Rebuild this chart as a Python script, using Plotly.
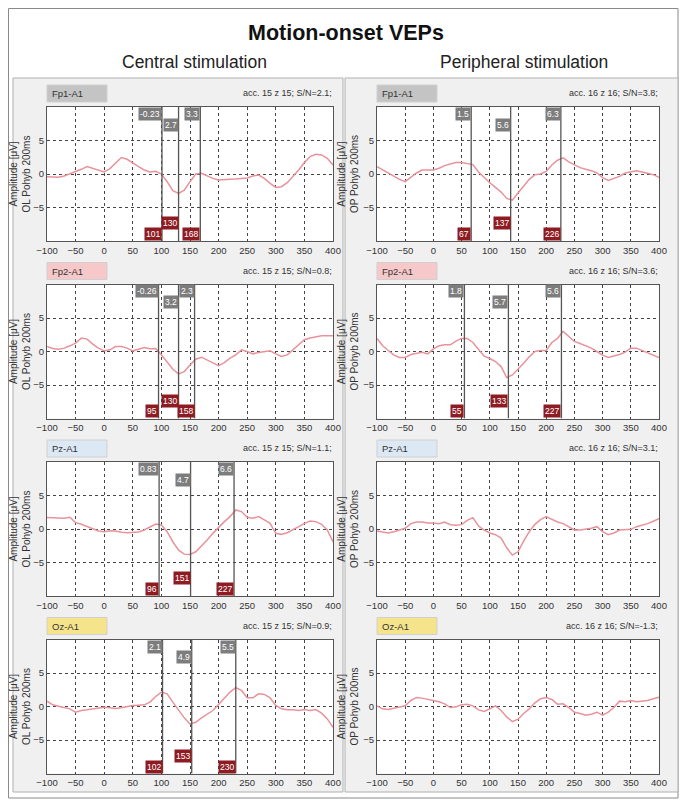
import plotly.graph_objects as go

# time axis (ms) and traces, 10 ms steps
t = list(range(-100, 401, 10))

fp1_central = [-0.4, -0.5, -0.5, -0.3, 0.0, 0.3, 0.7, 1.1, 0.85, 0.5,
               0.3, 0.8, 1.7, 2.45, 2.2, 1.6, 1.1, 0.6, 0.3, 0.4,
               0.0, -1.15, -2.5, -2.9, -2.4, -1.15, 0.0, 0.1, -0.3, -0.65,
               -0.9, -0.9, -0.8, -0.75, -0.7, -0.6, -0.3, -0.15, -0.65, -1.4,
               -2.0, -1.9, -1.3, -0.4, 0.6, 1.7, 2.6, 2.95, 2.85, 2.35,
               1.35]
fp2_central = [0.75, 0.45, 0.35, 0.5, 0.85, 1.25, 2.0, 1.85, 1.1, 0.5,
               0.1, 0.25, 0.75, 0.75, 0.5, 0.1, 0.35, 0.6, 0.4, 0.45,
               -0.5, -1.5, -2.65, -3.35, -3.0, -2.0, -1.15, -0.85, -1.25, -1.75,
               -2.1, -1.65, -1.0, -0.5, 0.25, 0.0, -0.35, -0.15, 0.0, 0.1,
               -0.35, -0.75, -0.5, 0.25, 1.0, 1.75, 2.0, 2.15, 2.35, 2.35,
               2.35]
pz_central = [1.7, 1.7, 1.6, 1.6, 1.75, 0.95, 0.7, 0.35, 0.0, -0.3,
              -0.4, -0.25, -0.3, -0.5, -0.55, -0.5, -0.45, -0.15, 0.35, 0.75,
              0.6, -0.4, -1.9, -3.15, -3.75, -3.8, -3.4, -2.55, -1.65, -0.65,
              0.25, 1.1, 1.85, 2.85, 2.6, 1.75, 1.6, 1.85, 1.35, 0.85,
              -0.65, -0.8, -0.55, -0.15, 0.35, 0.85, 1.2, 1.1, 0.7, -0.15,
              -1.9]
oz_central = [0.8, 0.25, 0.05, -0.1, -0.35, -0.85, -0.6, -0.5, -0.35, -0.25,
              -0.1, -0.2, -0.3, -0.2, 0.0, 0.15, 0.2, 0.25, 0.65, 1.5,
              2.15, 1.9, 0.65, -0.6, -1.7, -2.6, -2.35, -1.7, -1.2, -0.6,
              0.3, 1.15, 2.15, 2.8, 2.4, 1.3, 1.3, 1.9, 1.8, 1.3,
              0.15, -0.35, -0.5, -0.5, -0.6, -0.45, -0.6, -0.45, -1.0, -1.85,
              -3.1]
fp1_periph = [1.1, 0.6, 0.15, -0.3, -0.8, -1.15, -0.55, 0.15, 0.6, 0.6,
              0.6, 0.85, 1.25, 1.5, 1.7, 1.7, 1.55, 1.4, 0.3, -0.55,
              -1.3, -2.0, -2.7, -3.65, -3.9, -2.85, -1.75, -0.8, -0.1, 0.0,
              0.4, 1.35, 2.05, 2.4, 1.8, 1.35, 0.95, 0.7, 0.5, 0.15,
              -0.55, -0.95, -0.7, -0.35, 0.15, 0.3, 0.5, 0.3, 0.15, -0.1,
              -0.5]
fp2_periph = [1.95, 0.85, 0.15, -0.55, -0.9, -0.9, -0.45, -0.25, -0.1, -0.35,
              0.4, 0.85, 1.0, 1.0, 1.55, 1.95, 1.95, 1.35, 0.4, -0.7,
              -1.05, -1.5, -2.25, -3.9, -3.5, -2.7, -1.75, -0.8, 0.0, 0.15,
              0.15, 1.35, 1.95, 3.0, 2.3, 1.5, 1.2, 0.85, 0.5, 0.0,
              -0.55, -0.9, -0.7, -0.45, -0.1, 0.5, 0.5, 0.15, -0.1, -0.45,
              -0.9]
pz_periph = [-0.3, -0.5, -0.6, -0.4, -0.15, 0.1, 0.8, 1.05, 1.05, 0.9,
             0.9, 0.8, 1.05, 0.65, 0.55, 0.65, 1.3, 1.7, 0.45, -0.15,
             -0.6, -0.85, -1.35, -2.8, -3.9, -3.4, -1.8, -0.4, 0.7, 1.4,
             1.85, 1.4, 1.05, 0.8, 0.35, -0.15, -0.15, -0.05, 0.1, 0.35,
             -0.4, -0.85, -0.6, -0.15, -0.15, -0.05, 0.35, 0.55, 0.8, 1.15,
             1.55]
oz_periph = [0.1, -0.35, -0.45, -0.3, -0.15, 0.1, 0.9, 1.35, 1.25, 1.1,
             0.9, 0.7, 0.4, -0.15, -0.05, 0.25, 0.35, 0.1, -0.5, -0.75,
             -0.35, 0.1, -0.6, -1.55, -2.25, -1.9, -1.05, -0.35, 0.55, 1.15,
             1.35, 1.05, 0.35, 0.4, -0.15, -0.85, -1.05, -1.3, -1.15, -0.85,
             -1.3, -0.85, -0.15, 0.8, 0.7, 0.9, 0.7, 0.8, 0.9, 1.15,
             1.4]

# peak markers: latencies (ms) and amplitude labels
fp1_central_lat = [101, 130, 168]
fp1_central_amp = ["-0.23", "2.7", "3.3"]
fp2_central_lat = [95, 130, 158]
fp2_central_amp = ["-0.26", "3.2", "2.3"]
pz_central_lat = [96, 151, 227]
pz_central_amp = ["0.83", "4.7", "6.6"]
oz_central_lat = [102, 153, 230]
oz_central_amp = ["2.1", "4.9", "5.5"]
fp1_periph_lat = [67, 137, 226]
fp1_periph_amp = ["1.5", "5.6", "6.3"]
fp2_periph_lat = [55, 133, 227]
fp2_periph_amp = ["1.8", "5.7", "5.6"]

channels = ["Fp1-A1", "Fp2-A1", "Pz-A1", "Oz-A1"]
channel_colors = ["#c4c4c4", "#f6c8ca", "#dde8f5", "#f6e48c"]
central_info = ["acc. 15 z 15; S/N=2.1;", "acc. 15 z 15; S/N=0.8;",
                "acc. 15 z 15; S/N=1.1;", "acc. 15 z 15; S/N=0.9;"]
periph_info = ["acc. 16 z 16; S/N=3.8;", "acc. 16 z 16; S/N=3.6;",
               "acc. 16 z 16; S/N=3.1;", "acc. 16 z 16; S/N=-1.3;"]

central = [fp1_central, fp2_central, pz_central, oz_central]
periph = [fp1_periph, fp2_periph, pz_periph, oz_periph]
central_marks = [(fp1_central_lat, fp1_central_amp), (fp2_central_lat, fp2_central_amp),
                 (pz_central_lat, pz_central_amp), (oz_central_lat, oz_central_amp)]
periph_marks = [(fp1_periph_lat, fp1_periph_amp), (fp2_periph_lat, fp2_periph_amp),
                None, None]

# page has an 8px body margin, so the figure is 8px smaller and shifted
OFF = 8
W, H = 696 - OFF, 800 - OFF
SANS = "Liberation Sans, Arial, sans-serif"
TRACE = "#e8939b"


def px(x):
    return (x - OFF) / W


def py(y):
    return 1 - (y - OFF) / H


fig = go.Figure()
shapes = []
annotations = []

# outer frame and the two column panels
shapes.append(dict(type="rect", xref="paper", yref="paper", x0=px(8.5), x1=px(678),
                   y0=py(798), y1=py(8.5), line=dict(color="#8a8a8a", width=1),
                   fillcolor="white", layer="below"))
for x0, x1 in [(13, 343), (345, 678)]:
    shapes.append(dict(type="rect", xref="paper", yref="paper", x0=px(x0), x1=px(x1),
                       y0=py(792), y1=py(78), line=dict(color="#b0b0b0", width=1),
                       fillcolor="#f0f0f0", layer="below"))

cols = [
    dict(left=47, right=333, data=central, marks=central_marks, info=central_info,
         ytitle="Amplitude [μV]<br>OL Pohyb 200ms"),
    dict(left=377, right=659, data=periph, marks=periph_marks, info=periph_info,
         ytitle="Amplitude [μV]<br>OP Pohyb 200ms"),
]

axis_font = dict(family=SANS, size=9.5, color="#333")

for row in range(4):
    top = 107 + 177.5 * row
    bottom = top + 134
    for c, col in enumerate(cols):
        i = row * 2 + c
        sfx = "" if i == 0 else str(i + 1)
        xr, yr = "x" + sfx, "y" + sfx

        # white plot area under grid
        shapes.append(dict(type="rect", xref="paper", yref="paper",
                           x0=px(col["left"]), x1=px(col["right"]),
                           y0=py(bottom), y1=py(top), line=dict(width=0),
                           fillcolor="white", layer="below"))
        # channel label box
        shapes.append(dict(type="rect", xref="paper", yref="paper",
                           x0=px(col["left"]), x1=px(col["left"] + 60),
                           y0=py(top - 5), y1=py(top - 22),
                           line=dict(color="#d0d0d0", width=1),
                           fillcolor=channel_colors[row], layer="below"))
        annotations.append(dict(text=channels[row], xref="paper", yref="paper",
                                x=px(col["left"] + 3), y=py(top - 13.5),
                                xanchor="left", yanchor="middle", showarrow=False,
                                font=dict(family=SANS, size=9.5, color="#333")))
        annotations.append(dict(text=col["info"][row], xref="paper", yref="paper",
                                x=px(col["right"] + 1), y=py(top - 14),
                                xanchor="right", yanchor="middle", showarrow=False,
                                font=dict(family=SANS, size=9, color="#333")))

        fig.add_trace(go.Scatter(x=t, y=col["data"][row], mode="lines",
                                 line=dict(color=TRACE, width=1.5),
                                 xaxis=xr, yaxis=yr, hoverinfo="skip"))

        marks = col["marks"][row]
        if marks:
            lats, amps = marks
            for k, (lat, amp) in enumerate(zip(lats, amps)):
                fig.add_trace(go.Scatter(x=[lat, lat], y=[-10, 10], mode="lines",
                                         line=dict(color="#555", width=1.3),
                                         xaxis=xr, yaxis=yr, hoverinfo="skip"))
                shift = 1.6 if k == 1 else 0
                annotations.append(dict(text=amp, xref=xr, yref=yr, x=lat, y=10 - shift,
                                        xanchor="right", yanchor="top", showarrow=False,
                                        bgcolor="#7d7d7d", borderpad=1,
                                        font=dict(family=SANS, size=8.5, color="white")))
                annotations.append(dict(text=str(lat), xref=xr, yref=yr, x=lat, y=-10 + shift,
                                        xanchor="right", yanchor="bottom", showarrow=False,
                                        bgcolor="#8e1b22", borderpad=1,
                                        font=dict(family=SANS, size=8.5, color="white")))

        xa = dict(domain=[px(col["left"]), px(col["right"])], anchor=yr,
                  range=[-100, 400], tickvals=list(range(-100, 401, 50)),
                  ticks="", tickfont=axis_font, showgrid=True, gridcolor="#444",
                  griddash="dot", gridwidth=1, zeroline=False, showline=True,
                  mirror=True, linecolor="#555", linewidth=1.2, automargin=False)
        ya = dict(domain=[py(bottom), py(top)], anchor=xr, range=[-10, 10],
                  tickvals=[-5, 0, 5], ticks="", tickfont=axis_font, showgrid=True,
                  gridcolor="#444", griddash="dot", gridwidth=1, zeroline=False,
                  showline=True, mirror=True, linecolor="#555", linewidth=1.2,
                  automargin=False,
                  title=dict(text=col["ytitle"], standoff=2,
                             font=dict(family=SANS, size=10, color="#333")))
        fig.update_layout({"xaxis" + sfx: xa, "yaxis" + sfx: ya})

# titles
annotations.append(dict(text="<b>Motion-onset VEPs</b>", xref="paper", yref="paper",
                        x=px(346), y=py(33), xanchor="center", yanchor="middle",
                        showarrow=False, font=dict(family=SANS, size=21.5, color="#111")))
annotations.append(dict(text="Central stimulation", xref="paper", yref="paper",
                        x=px(194), y=py(62), xanchor="center", yanchor="middle",
                        showarrow=False, font=dict(family=SANS, size=17.5, color="#222")))
annotations.append(dict(text="Peripheral stimulation", xref="paper", yref="paper",
                        x=px(524), y=py(62), xanchor="center", yanchor="middle",
                        showarrow=False, font=dict(family=SANS, size=17.5, color="#222")))

fig.update_layout(width=W, height=H, margin=dict(l=0, r=0, t=0, b=0),
                  paper_bgcolor="white", plot_bgcolor="white", showlegend=False,
                  shapes=shapes, annotations=annotations)

fig.write_html("out.html")
